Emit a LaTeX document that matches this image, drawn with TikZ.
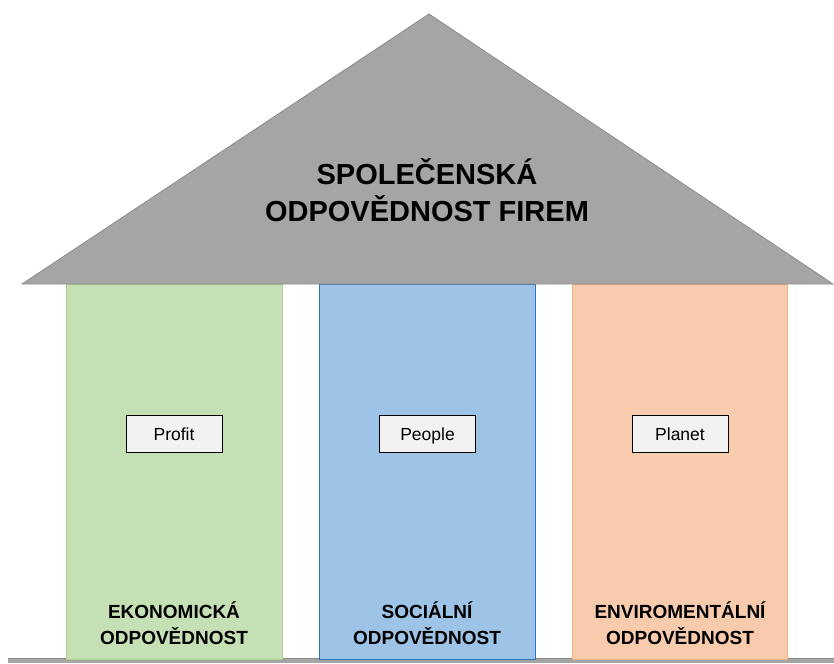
\documentclass[tikz,border=0pt]{standalone}
\usepackage{fontspec}
\setmainfont{Liberation Sans}
\begin{document}
\begin{tikzpicture}[x=1pt,y=-1pt,
  pillar/.style={line width=0.8pt,minimum height=375pt,inner sep=0pt,anchor=north west},
  label/.style={draw=black,line width=0.9pt,fill=boxgray,minimum width=96pt,minimum height=37pt,inner sep=0pt,text height=16pt,text depth=3.5pt,font=\fontsize{17.5}{19}\selectfont},
  plabel/.style={align=center,font=\bfseries\fontsize{19}{26}\selectfont}]
\definecolor{roofgray}{HTML}{A5A5A5}
\definecolor{roofedge}{HTML}{8C8C8C}
\definecolor{gfill}{HTML}{C5E0B4}
\definecolor{gedge}{HTML}{A9D18E}
\definecolor{bfill}{HTML}{9DC3E6}
\definecolor{bedge}{HTML}{2E75B6}
\definecolor{ofill}{HTML}{F8CBAD}
\definecolor{oedge}{HTML}{F4B183}
\definecolor{boxgray}{HTML}{F2F2F2}
\useasboundingbox (0,0) rectangle (834,663);
% base line
\fill[roofgray] (8,658) rectangle (834,663);
\draw[roofedge,line width=0.8pt] (8,658.4) -- (834,658.4);
% pillars
\node[pillar,draw=gedge,fill=gfill,minimum width=216pt] (eco) at (66,284) {};
\node[pillar,draw=bedge,fill=bfill,minimum width=216pt] (soc) at (319,284) {};
\node[pillar,draw=oedge,fill=ofill,minimum width=215pt] (env) at (572,284) {};
% roof
\coordinate (apex) at (429,14);
\coordinate (bl) at (22,284);
\coordinate (br) at (833,284);
\filldraw[fill=roofgray,draw=roofedge,line width=0.8pt] (apex) -- (br) -- (bl) -- cycle;
\node[align=center,font=\bfseries\fontsize{29}{37}\selectfont] (title) at (427,190) {SPOLEČENSKÁ\\ODPOVĚDNOST FIREM};
% labels
\node[label] (profit) at (174,434) {Profit};
\node[label] (people) at (427.5,434) {People};
\node[label] (planet) at (680,434) {Planet};
\node[plabel] (ecot) at (174,623) {EKONOMICKÁ\\ODPOVĚDNOST};
\node[plabel] (soct) at (427,623) {SOCIÁLNÍ\\ODPOVĚDNOST};
\node[plabel] (envt) at (680,623) {ENVIROMENTÁLNÍ\\ODPOVĚDNOST};
\end{tikzpicture}
\end{document}
